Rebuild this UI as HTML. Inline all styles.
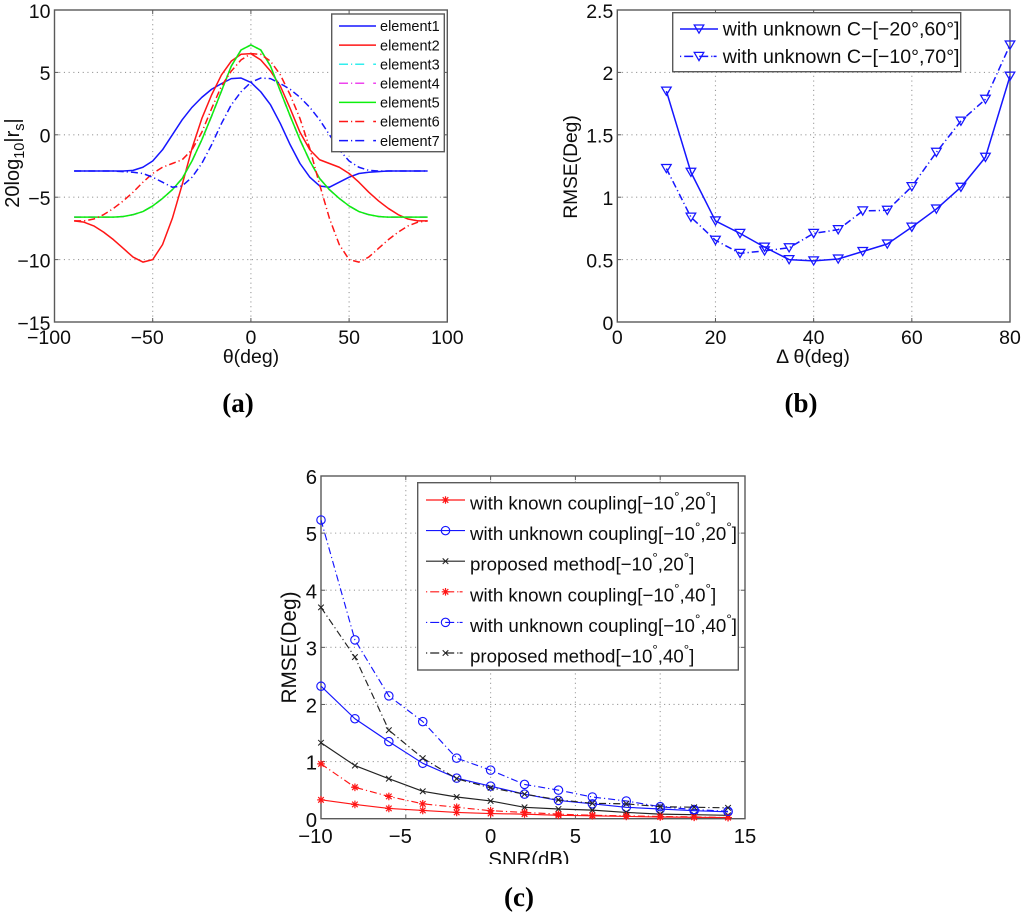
<!DOCTYPE html>
<html lang="en">
<head>
<meta charset="utf-8">
<title>Three-panel RMSE and element response charts</title>
<style>
html,body{margin:0;padding:0;background:#fff;}
svg{display:block;}
text{font-family:"Liberation Sans",sans-serif;fill:#0c0c0c;}
.cap{font-family:"Liberation Serif",serif;font-weight:bold;font-size:27px;fill:#000;}
</style>
</head>
<body>
<svg id="fig" xmlns="http://www.w3.org/2000/svg" width="1024" height="917" viewBox="0 0 1024 917">
<defs>
<clipPath id="clipC"><rect x="260" y="820" width="520" height="44"/></clipPath>
<filter id="soft" x="0" y="0" width="100%" height="100%"><feGaussianBlur stdDeviation="0.35"/></filter>
</defs>
<rect x="0" y="0" width="1024" height="917" fill="#fff"/>
<g filter="url(#soft)">
<g id="layer"></g>
<text class="cap" x="238" y="412" text-anchor="middle">(a)</text>
<text class="cap" x="801" y="412" text-anchor="middle">(b)</text>
<text class="cap" x="519" y="906" text-anchor="middle">(c)</text>
</g>
</svg>
<script>
// ---- Chart A data ----
const aTheta = [-90,-85,-80,-75,-70,-65,-60,-55,-50,-45,-40,-35,-30,-25,-20,-15,-10,-5,0,5,10,15,20,25,30,35,40,45,50,55,60,65,70,75,80,85,90];
const aElement1 = [-2.9,-2.9,-2.9,-2.9,-2.9,-2.9,-2.85,-2.6,-2.1,-1.2,0.0,1.2,2.2,3.0,3.65,4.1,4.5,4.55,4.2,3.45,2.4,0.9,-0.8,-2.3,-3.4,-4.1,-4.2,-3.8,-3.4,-3.1,-3.0,-2.95,-2.9,-2.9,-2.9,-2.9,-2.9];
const aElement2 = [-6.9,-7.0,-7.3,-7.8,-8.4,-9.1,-9.8,-10.2,-10.0,-8.8,-6.7,-4.0,-1.1,1.3,3.2,4.8,5.9,6.45,6.5,6.0,5.1,3.9,2.1,0.2,-1.2,-2.0,-2.3,-2.6,-3.1,-3.8,-4.6,-5.3,-5.9,-6.4,-6.75,-6.9,-6.9];
const aElement3 = [-6.6,-6.6,-6.6,-6.6,-6.6,-6.55,-6.4,-6.15,-5.7,-5.1,-4.4,-3.5,-2.1,-0.4,1.5,3.5,5.5,6.8,7.2,6.8,5.5,3.5,1.5,-0.4,-2.1,-3.5,-4.4,-5.1,-5.7,-6.15,-6.4,-6.55,-6.6,-6.6,-6.6,-6.6,-6.6];
const aElement4 = [-6.6,-6.6,-6.6,-6.6,-6.6,-6.55,-6.4,-6.15,-5.7,-5.1,-4.4,-3.5,-2.1,-0.4,1.5,3.5,5.5,6.8,7.2,6.8,5.5,3.5,1.5,-0.4,-2.1,-3.5,-4.4,-5.1,-5.7,-6.15,-6.4,-6.55,-6.6,-6.6,-6.6,-6.6,-6.6];
const aElement5 = [-6.6,-6.6,-6.6,-6.6,-6.6,-6.55,-6.4,-6.15,-5.7,-5.1,-4.4,-3.5,-2.1,-0.4,1.5,3.5,5.5,6.8,7.2,6.8,5.5,3.5,1.5,-0.4,-2.1,-3.5,-4.4,-5.1,-5.7,-6.15,-6.4,-6.55,-6.6,-6.6,-6.6,-6.6,-6.6];
const aElement6 = [-6.9,-6.9,-6.75,-6.4,-5.9,-5.3,-4.6,-3.8,-3.1,-2.6,-2.3,-2.0,-1.2,0.2,2.1,3.9,5.1,6.0,6.5,6.45,5.9,4.8,3.2,1.3,-1.1,-4.0,-6.7,-8.8,-10.0,-10.2,-9.8,-9.1,-8.4,-7.8,-7.3,-7.0,-6.9];
const aElement7 = [-2.9,-2.9,-2.9,-2.9,-2.9,-2.95,-3.0,-3.1,-3.4,-3.8,-4.2,-4.1,-3.4,-2.3,-0.8,0.9,2.4,3.45,4.2,4.55,4.5,4.1,3.65,3.0,2.2,1.2,0.0,-1.2,-2.1,-2.6,-2.85,-2.9,-2.9,-2.9,-2.9,-2.9,-2.9];
const aXTicks = [-100,-50,0,50,100];
const aYTicks = [-15,-10,-5,0,5,10];
const aLegend = ["element1","element2","element3","element4","element5","element6","element7"];

// ---- Chart B data ----
const bDelta = [10,15,20,25,30,35,40,45,50,55,60,65,70,75,80];
const bSeries1 = [1.85,1.2,0.81,0.71,0.6,0.5,0.49,0.505,0.565,0.625,0.76,0.905,1.08,1.32,1.97];
const bSeries2 = [1.23,0.84,0.655,0.55,0.57,0.595,0.71,0.74,0.89,0.895,1.085,1.36,1.61,1.785,2.22];
const bXTicks = [0,20,40,60,80];
const bYTicks = [0,0.5,1,1.5,2,2.5];
const bLegend = ["with unknown C\u2212[\u221220\u00b0,60\u00b0]","with unknown C\u2212[\u221210\u00b0,70\u00b0]"];

// ---- Chart C data ----
const cSnr = [-10,-8,-6,-4,-2,0,2,4,6,8,10,12,14];
const cKnown20 = [0.33,0.25,0.18,0.145,0.11,0.09,0.08,0.06,0.05,0.04,0.03,0.025,0.02];
const cUnknown20 = [2.32,1.75,1.35,0.97,0.71,0.57,0.43,0.32,0.26,0.2,0.17,0.14,0.12];
const cProposed20 = [1.33,0.93,0.7,0.48,0.38,0.31,0.2,0.17,0.15,0.11,0.08,0.07,0.06];
const cKnown40 = [0.96,0.55,0.39,0.26,0.2,0.14,0.11,0.08,0.06,0.05,0.04,0.03,0.02];
const cUnknown40 = [5.23,3.13,2.15,1.7,1.06,0.85,0.6,0.5,0.38,0.31,0.21,0.16,0.13];
const cProposed40 = [3.7,2.83,1.55,1.06,0.7,0.54,0.43,0.33,0.27,0.26,0.21,0.2,0.19];
const cXTicks = [-10,-5,0,5,10,15];
const cYTicks = [0,1,2,3,4,5,6];
const cLegend = [["with known coupling[\u221210","20"],["with unknown coupling[\u221210","20"],["proposed method[\u221210","20"],["with known coupling[\u221210","40"],["with unknown coupling[\u221210","40"],["proposed method[\u221210","40"]];

const NS = "http://www.w3.org/2000/svg";
const layer = document.getElementById("layer");
const AXIS = "#5a5a5a", GRID = "#999";
const BLUE = "#1414ff", RED = "#ff1414", GREEN = "#10f010", BLACK = "#222";
const DASHDOT = "7 3 1.2 3";

function make(tag, attrs, parent) {
  const el = document.createElementNS(NS, tag);
  for (const k in attrs) el.setAttribute(k, attrs[k]);
  (parent || layer).appendChild(el);
  return el;
}
function fmt(v) { return String(v).replace("-", "\u2212"); }

function scale(d0, d1, r0, r1) { return v => r0 + (v - d0) * (r1 - r0) / (d1 - d0); }

function drawAxes(id, box, sx, sy, xT, yT, fs, xBase) {
  const g = make("g", {});
  
  
  xT.forEach(t => {
    const x = sx(t);
    if (t !== xT[0] && t !== xT[xT.length - 1]) {
      const gl = make("line", {x1:x, x2:x, y1:box.t, y2:box.b, stroke:GRID, "stroke-width":1.1, "stroke-dasharray":"1.1 3.6"}, g);
      
      
      const tk1 = make("line", {x1:x, x2:x, y1:box.b, y2:box.b - 4, stroke:AXIS, "stroke-width":1}, g);
      
      
      const tk2 = make("line", {x1:x, x2:x, y1:box.t, y2:box.t + 4, stroke:AXIS, "stroke-width":1}, g);
      
      
    }
    const lab = make("text", {x:t < 0 ? x - 5.5 : x, y:xBase, "text-anchor":"middle", "font-size":fs}, g);
    
    
    lab.textContent = fmt(t);
  });
  yT.forEach(t => {
    const y = sy(t);
    if (t !== yT[0] && t !== yT[yT.length - 1]) {
      const gl = make("line", {x1:box.l, x2:box.r, y1:y, y2:y, stroke:GRID, "stroke-width":1.1, "stroke-dasharray":"1.1 3.6"}, g);
      
      
      const tk1 = make("line", {x1:box.l, x2:box.l + 4, y1:y, y2:y, stroke:AXIS, "stroke-width":1}, g);
      
      
      const tk2 = make("line", {x1:box.r, x2:box.r - 4, y1:y, y2:y, stroke:AXIS, "stroke-width":1}, g);
      
      
    }
    const lab = make("text", {x:box.l - 4, y:y + fs * 0.4, "text-anchor":"end", "font-size":fs}, g);
    
    
    lab.textContent = fmt(t);
  });
  const frame = make("rect", {x:box.l, y:box.t, width:box.r - box.l, height:box.b - box.t, fill:"none", stroke:AXIS, "stroke-width":1.4}, g);
  
  
}

function drawLine(name, xs, ys, sx, sy, color, dash, width, parent) {
  const pts = xs.map((x, i) => sx(x).toFixed(2) + "," + sy(ys[i]).toFixed(2)).join(" ");
  const attrs = {points:pts, fill:"none", stroke:color, "stroke-width":width, "stroke-linejoin":"round"};
  if (dash) attrs["stroke-dasharray"] = dash;
  const el = make("polyline", attrs, parent);
  
  
  return el;
}

function drawMarker(kind, x, y, color, parent) {
  const g = make("g", {fill:"none", stroke:color}, parent);
  if (kind === "tri") {
    make("polygon", {points:(x-4.8)+","+(y-4)+" "+(x+4.8)+","+(y-4)+" "+x+","+(y+4.2), "stroke-width":1.25, fill:"none"}, g);
  } else if (kind === "circle") {
    make("circle", {cx:x, cy:y, r:4.2, "stroke-width":1.15}, g);
  } else if (kind === "x") {
    make("path", {d:"M"+(x-2.8)+" "+(y-2.8)+"L"+(x+2.8)+" "+(y+2.8)+"M"+(x-2.8)+" "+(y+2.8)+"L"+(x+2.8)+" "+(y-2.8), "stroke-width":1.05}, g);
  } else if (kind === "star") {
    make("path", {d:"M"+(x-3.8)+" "+y+"L"+(x+3.8)+" "+y+"M"+x+" "+(y-3.8)+"L"+x+" "+(y+3.8)+"M"+(x-2.8)+" "+(y-2.8)+"L"+(x+2.8)+" "+(y+2.8)+"M"+(x-2.8)+" "+(y+2.8)+"L"+(x+2.8)+" "+(y-2.8), "stroke-width":1.2}, g);
  }
  return g;
}

function drawMarkers(name, kind, xs, ys, sx, sy, color) {
  const g = make("g", {});
  
  
  xs.forEach((x, i) => drawMarker(kind, sx(x), sy(ys[i]), color, g));
}

function drawLegendBox(name, x, y, w, h) {
  const g = make("g", {});
  
  
  const r = make("rect", {x:x, y:y, width:w, height:h, fill:"#fff", stroke:AXIS, "stroke-width":1.4}, g);
  
  
  return g;
}

// ========== Chart A ==========
(function () {
  const box = {l:54.5, r:447.3, t:10, b:322};
  const sx = scale(-100, 100, box.l, box.r), sy = scale(-15, 10, box.b, box.t);
  drawAxes("chart-a", box, sx, sy, aXTicks, aYTicks, 19.5, 344);
  const series = [
    ["element1", aElement1, BLUE, null],
    ["element2", aElement2, RED, null],
    ["element3", aElement3, "#33eeee", DASHDOT],
    ["element4", aElement4, "#ee44ee", DASHDOT],
    ["element5", aElement5, GREEN, null],
    ["element6", aElement6, RED, DASHDOT],
    ["element7", aElement7, BLUE, DASHDOT]
  ];
  series.forEach(s => drawLine("chart-a-" + s[0] + "-line", aTheta, s[1], sx, sy, s[2], s[3], 1.5));
  const xl = make("text", {x:251, y:363, "text-anchor":"middle", "font-size":19.5});
  
  
  xl.textContent = "\u03b8(deg)";
  const yl = make("text", {x:0, y:0, "text-anchor":"middle", "font-size":20, transform:"translate(19,163) rotate(-90)"});
  
  
  yl.appendChild(document.createTextNode("20log"));
  const s1 = make("tspan", {"font-size":14.5, dy:5}, yl); s1.textContent = "10";
  const s2 = make("tspan", {dy:-5}, yl); s2.textContent = "|r";
  const s3 = make("tspan", {"font-size":14.5, dy:5}, yl); s3.textContent = "s";
  const s4 = make("tspan", {dy:-5}, yl); s4.textContent = "|";
  const lg = drawLegendBox("chart-a-legend", 331.7, 14, 112.6, 137.7);
  aLegend.forEach((label, i) => {
    const y = 26 + i * 19.1;
    const ln = make("line", {x1:339, x2:376, y1:y, y2:y, stroke:series[i][2], "stroke-width":1.5}, lg);
    if (series[i][3]) ln.setAttribute("stroke-dasharray", "9 3 1.2 3 9");
    
    
    const t = make("text", {x:380, y:y + 5.2, "font-size":14.5}, lg);
    
    
    t.textContent = label;
  });
})();

// ========== Chart B ==========
(function () {
  const box = {l:617.3, r:1010, t:10, b:322};
  const sx = scale(0, 80, box.l, box.r), sy = scale(0, 2.5, box.b, box.t);
  drawAxes("chart-b", box, sx, sy, bXTicks, bYTicks, 19.5, 344);
  drawLine("chart-b-series1-line", bDelta, bSeries1, sx, sy, BLUE, null, 1.5);
  drawLine("chart-b-series2-line", bDelta, bSeries2, sx, sy, BLUE, DASHDOT, 1.5);
  drawMarkers("chart-b-series1-markers", "tri", bDelta, bSeries1, sx, sy, BLUE);
  drawMarkers("chart-b-series2-markers", "tri", bDelta, bSeries2, sx, sy, BLUE);
  const xl = make("text", {x:813, y:363, "text-anchor":"middle", "font-size":19.5});
  
  
  xl.textContent = "\u0394 \u03b8(deg)";
  const yl = make("text", {x:0, y:0, "text-anchor":"middle", "font-size":19.2, transform:"translate(577,167) rotate(-90)"});
  
  
  yl.textContent = "RMSE(Deg)";
  const lg = drawLegendBox("chart-b-legend", 672.7, 12.7, 288, 59);
  bLegend.forEach((label, i) => {
    const y = 29 + i * 27.4;
    const ln = make("line", {x1:680, x2:718, y1:y, y2:y, stroke:BLUE, "stroke-width":1.5}, lg);
    if (i === 1) ln.setAttribute("stroke-dasharray", "1.2 3 9 6 9 3 1.2");
    
    
    drawMarker("tri", 699, y, BLUE, lg);
    const t = make("text", {x:722.7, y:y + 6.5, "font-size":19.6}, lg);
    
    
    t.textContent = label;
  });
})();

// ========== Chart C ==========
(function () {
  const box = {l:321, r:745, t:476, b:818.7};
  const sx = scale(-10, 15, box.l, box.r), sy = scale(0, 6, box.b, box.t);
  drawAxes("chart-c", box, sx, sy, cXTicks, cYTicks, 20.3, 843);
  const series = [
    ["known-20", cKnown20, RED, null, "star"],
    ["unknown-20", cUnknown20, BLUE, null, "circle"],
    ["proposed-20", cProposed20, BLACK, null, "x"],
    ["known-40", cKnown40, RED, DASHDOT, "star"],
    ["unknown-40", cUnknown40, BLUE, DASHDOT, "circle"],
    ["proposed-40", cProposed40, BLACK, DASHDOT, "x"]
  ];
  series.forEach(s => {
    drawLine("chart-c-" + s[0] + "-line", cSnr, s[1], sx, sy, s[2], s[3], 1.15);
    drawMarkers("chart-c-" + s[0] + "-markers", s[4], cSnr, s[1], sx, sy, s[2]);
  });
  const xl = make("text", {x:529, y:866, "text-anchor":"middle", "font-size":20.3, "clip-path":"url(#clipC)"});
  
  
  xl.textContent = "SNR(dB)";
  const yl = make("text", {x:0, y:0, "text-anchor":"middle", "font-size":20.8, transform:"translate(296,647.5) rotate(-90)"});
  
  
  yl.textContent = "RMSE(Deg)";
  const lg = drawLegendBox("chart-c-legend", 417.7, 482.7, 320.6, 187.3);
  cLegend.forEach((parts, i) => {
    const y = 500 + i * 30.6;
    const ln = make("line", {x1:426, x2:465, y1:y, y2:y, stroke:series[i][2], "stroke-width":1.15}, lg);
    if (series[i][3]) ln.setAttribute("stroke-dasharray", "1.2 3 9 6 9 3 1.2");
    
    
    drawMarker(series[i][4], 445.5, y, series[i][2], lg);
    const t = make("text", {x:470, y:y + 9.5, "font-size":18.7}, lg);
    
    
    t.appendChild(document.createTextNode(parts[0]));
    const d1 = make("tspan", {"font-size":13.5, dy:-8}, t); d1.textContent = "\u00b0";
    const c1 = make("tspan", {dy:8}, t); c1.textContent = "," + parts[1];
    const d2 = make("tspan", {"font-size":13.5, dy:-8}, t); d2.textContent = "\u00b0";
    const c2 = make("tspan", {dy:8}, t); c2.textContent = "]";
  });
})();
</script>
</body>
</html>
